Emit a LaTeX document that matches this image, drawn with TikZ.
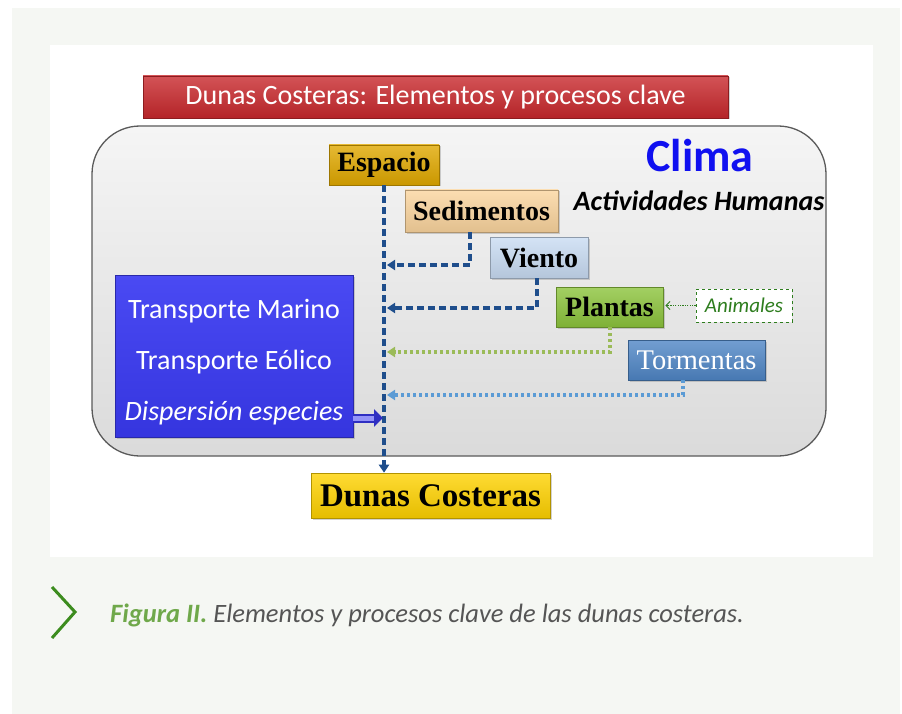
\documentclass[tikz,border=0pt]{standalone}
\usepackage{fontspec}
\setmainfont{Liberation Serif}
\newfontfamily\calfont{Carlito}
\usetikzlibrary{arrows.meta,shadows}
\definecolor{panelbg}{HTML}{F5F7F3}
\definecolor{redbar}{HTML}{C8282C}
\definecolor{bigfill}{HTML}{E6E6E6}
\definecolor{bigedge}{HTML}{5A5A5A}
\definecolor{espfill}{HTML}{E0A800}
\definecolor{sedfill}{HTML}{FBD59E}
\definecolor{vienfill}{HTML}{C9DCF3}
\definecolor{plantfill}{HTML}{8CC43C}
\definecolor{tormfill}{HTML}{4F86C6}
\definecolor{tranfill}{HTML}{3A3AF2}
\definecolor{dunfill}{HTML}{FFD200}
\definecolor{dblue}{HTML}{1F4E8C}
\definecolor{olive}{HTML}{9BBB59}
\definecolor{lblue}{HTML}{5B9BD5}
\definecolor{animgreen}{HTML}{2E7D1E}
\definecolor{climablue}{HTML}{1010F0}
\definecolor{capgreen}{HTML}{6FA84A}
\definecolor{chevgreen}{HTML}{3C8C1E}
\definecolor{capgray}{HTML}{555555}
\begin{document}
\begin{tikzpicture}[x=1pt,y=-1pt,
  box/.style={draw=#1!70!black, line width=0.6pt, top color=#1!80!white, bottom color=#1!90!black, inner sep=0pt,
    drop shadow={shadow xshift=1.5pt, shadow yshift=-1.5pt, opacity=0.35}},
  serifbold/.style={font=\fontsize{28}{30}\selectfont\bfseries},
  darr/.style={draw=dblue, line width=3.2pt, dash pattern=on 7pt off 4pt, -{Triangle[length=8pt,width=10pt]}},
  garr/.style={draw=olive, line width=3.4pt, dash pattern=on 3pt off 3pt, -{Triangle[length=8pt,width=10pt]}},
  barr/.style={draw=lblue, line width=3.4pt, dash pattern=on 3pt off 3pt, -{Triangle[length=8pt,width=10pt]}},
]
\useasboundingbox (0,0) rectangle (902,714);
\fill[white] (0,0) rectangle (902,714);
\fill[panelbg] (12,8) rectangle (900,714);
\fill[white] (50,45) rectangle (873,557);

% title bar
\node[box=redbar, minimum width=585pt, minimum height=42pt, text=white,
  font=\calfont\fontsize{28}{30}\selectfont] (title) at (435.5,97)
  {Dunas Costeras: Elementos y procesos clave};

% big rounded panel
\node[draw=bigedge, line width=1.3pt, top color=bigfill!40!white, bottom color=bigfill!95!black, rounded corners=48pt,
  minimum width=734pt, minimum height=330pt, inner sep=0pt] (panel) at (459,291) {};

\node[font=\calfont\fontsize{46}{48}\selectfont\bfseries, text=climablue] (clima) at (700,156) {Clima};
\node[font=\calfont\fontsize{28}{30}\selectfont\bfseries\itshape] (activ) at (699,201) {Actividades Humanas};

\node[box=espfill, serifbold, minimum width=110pt, minimum height=40pt] (esp) at (384,165) {Espacio};
\node[box=sedfill, serifbold, minimum width=153pt, minimum height=42pt] (sed) at (481.5,211) {Sedimentos};
\node[box=vienfill, serifbold, minimum width=98pt, minimum height=41pt] (vien) at (539,257.5) {Viento};
\node[box=plantfill, serifbold, minimum width=107pt, minimum height=40pt] (plan) at (609.5,307) {Plantas};
\node[draw=animgreen, dashed, line width=0.9pt, fill=white, text=animgreen,
  font=\calfont\fontsize{21}{23}\selectfont\itshape, minimum width=96pt, minimum height=33pt, inner sep=0pt] (anim) at (744,305.5) {Animales};
\node[box=tormfill, text=white, font=\fontsize{28.5}{30}\selectfont, minimum width=137pt, minimum height=40pt] (torm) at (696.5,360) {Tormentas};

\node[draw=tranfill!70!black, line width=0.6pt, top color=tranfill!92!white, bottom color=tranfill!92!black,
  drop shadow={shadow xshift=1.5pt, shadow yshift=-1.5pt, opacity=0.35},
  text=white, font=\calfont\fontsize{28}{30}\selectfont, inner sep=0pt,
  minimum width=238pt, minimum height=162pt, align=center] (tran) at (234,356)
  {\rule{0pt}{31pt}Transporte Marino\\[21pt]Transporte Eólico\\[21pt]\itshape Dispersión especies};

\node[box=dunfill, font=\fontsize{33}{35}\selectfont\bfseries, minimum width=239pt, minimum height=45pt] (dun) at (430.5,495.5) {Dunas Costeras};

% connectors
\coordinate (vx) at (387,0);
\coordinate (ysed) at (0,265);
\coordinate (yvien) at (0,308);
\coordinate (yplan) at (0,352);
\coordinate (ytorm) at (0,395);
\coordinate (ydisp) at (0,418);

\draw[darr] (esp.south) -- (esp.south |- dun.north);
\draw[darr] ([xshift=-11.5pt]sed.south) |- (vx |- ysed);
\draw[darr] ([xshift=-2pt]vien.south) |- (vx |- yvien);
\draw[garr] ([xshift=0.5pt]plan.south) |- (vx |- yplan);
\draw[barr] ([xshift=-13.5pt]torm.south) |- (vx |- ytorm);
\draw[animgreen, line width=1pt, dash pattern=on 1.2pt off 1.2pt, -{Straight Barb[length=4pt,width=8pt]}] (anim.west) -- ([xshift=2pt]plan.east |- anim.west);
\draw[draw=tranfill!80!black, line width=9pt, -{Triangle[length=9pt,width=17pt]}] (tran.east |- ydisp) -- ([xshift=-4pt]vx |- ydisp);
\draw[tranfill!55!white, line width=5pt, shorten >=9pt] (tran.east |- ydisp) -- ([xshift=-4pt]vx |- ydisp);

% caption
\draw[chevgreen, line width=3pt] (52,587) -- (75,612) -- (52,638);
\node[anchor=base west, font=\calfont\fontsize{26.5}{28}\selectfont\itshape, inner sep=0pt] (cap) at (110,622)
  {\textcolor{capgreen}{\bfseries Figura II.} \textcolor{capgray}{Elementos y procesos clave de las dunas costeras.}};
\end{tikzpicture}
\end{document}
